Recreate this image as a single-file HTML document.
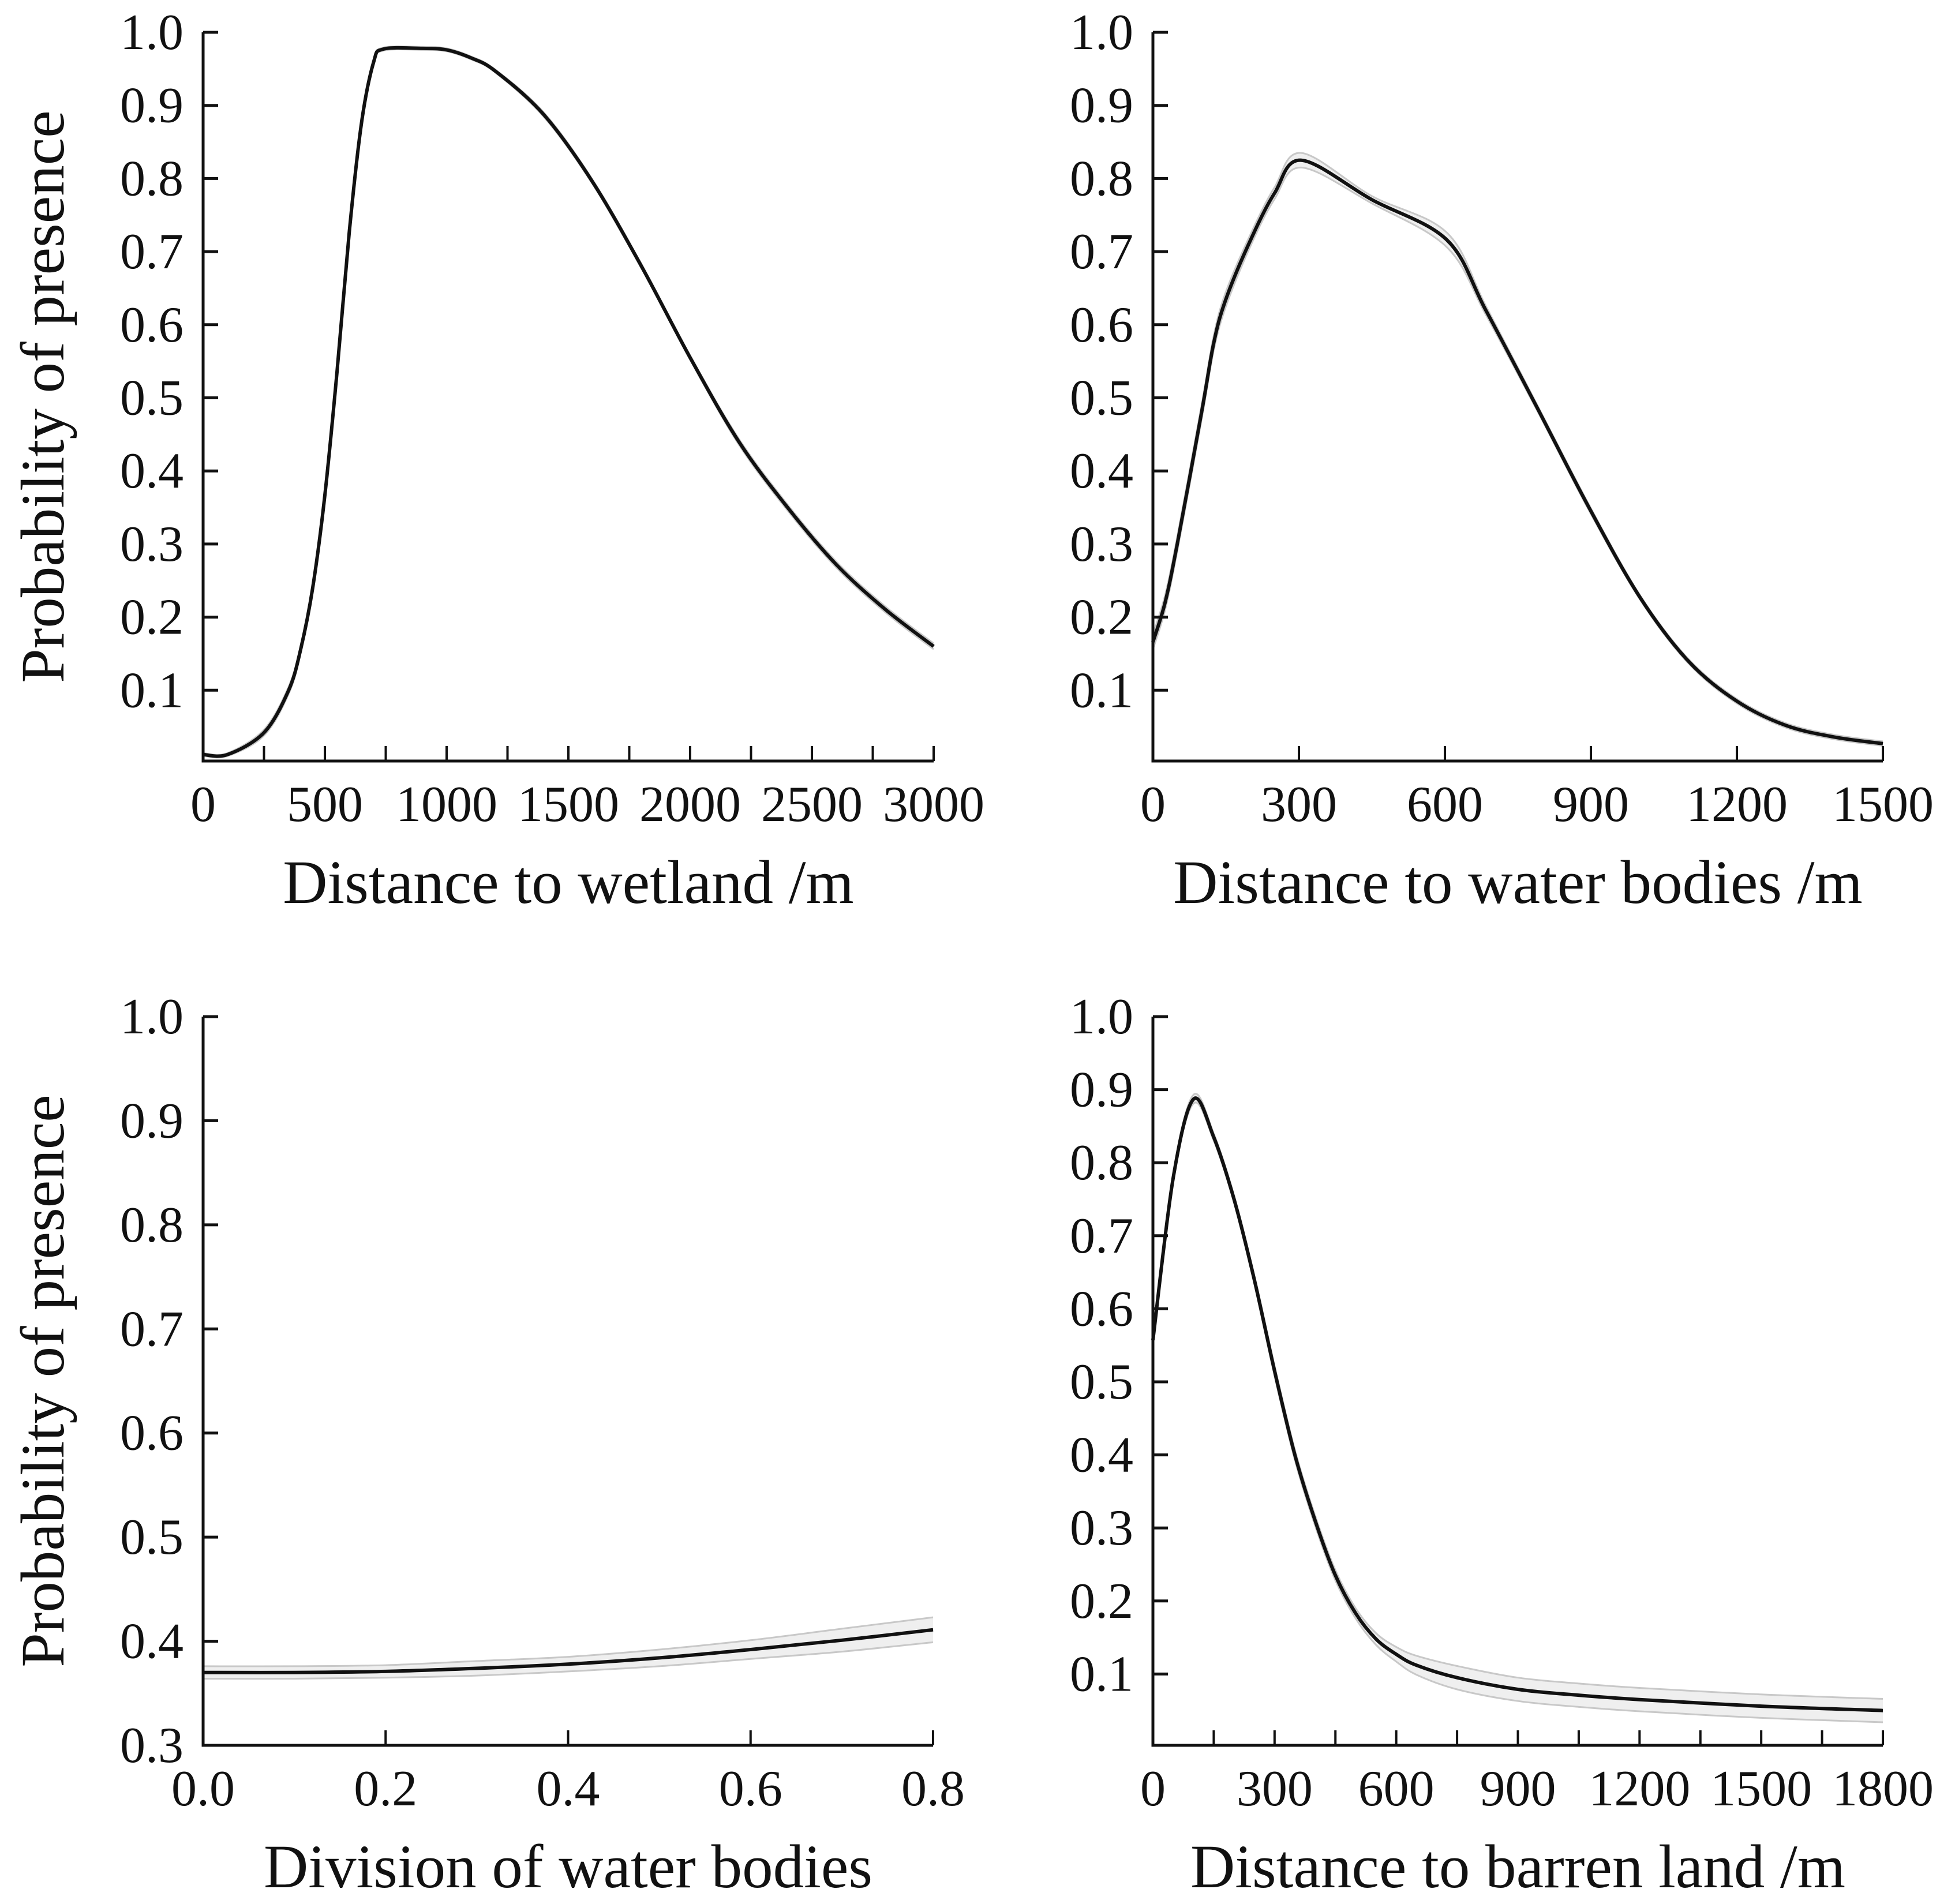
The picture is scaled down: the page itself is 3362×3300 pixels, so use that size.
<!DOCTYPE html>
<html><head><meta charset="utf-8"><style>
html,body{margin:0;padding:0;background:#fff}
svg{display:block}
text{font-family:"Liberation Serif","Times New Roman",serif;fill:#111}
</style></head><body>
<svg id="fig" width="3362" height="3300" viewBox="0 0 3362 3300" xmlns="http://www.w3.org/2000/svg"></svg>
<script>
// Panel A: distance to wetland
const wetX = [0,100,250,350,400,450,500,550,600,650,700,740,900,1000,1100,1200,1400,1600,1800,2000,2200,2400,2600,2800,3000];
const wetY = [0.012,0.012,0.042,0.099,0.155,0.24,0.367,0.536,0.726,0.875,0.959,0.977,0.978,0.976,0.965,0.947,0.887,0.795,0.68,0.555,0.44,0.35,0.272,0.211,0.16];
const wetCI = [0.002,0.002,0.004,0.005,0.005,0.005,0.005,0.004,0.003,0.003,0.002,0.002,0.002,0.002,0.002,0.002,0.003,0.003,0.003,0.003,0.004,0.004,0.004,0.004,0.004];
// Panel B: distance to water bodies
const watX = [0,25,50,100,125,150,200,250,305,450,604,684,790,896,1000,1100,1200,1300,1400,1500];
const watY = [0.166,0.22,0.30,0.48,0.575,0.635,0.715,0.78,0.825,0.771,0.716,0.62,0.486,0.35,0.228,0.14,0.085,0.052,0.036,0.027];
const watCI = [0.01,0.01,0.01,0.01,0.01,0.01,0.008,0.008,0.01,0.005,0.01,0.006,0.004,0.004,0.003,0.003,0.003,0.003,0.003,0.003];
// Panel C: division of water bodies
const divX = [0,0.1,0.2,0.3,0.4,0.5,0.6,0.7,0.8];
const divY = [0.37,0.37,0.371,0.374,0.378,0.384,0.392,0.401,0.411];
const divCI = [0.006,0.006,0.006,0.007,0.007,0.008,0.009,0.011,0.012];
// Panel D: distance to barren land
const barX = [0,50,100,150,200,250,300,350,400,450,500,550,600,650,750,900,1050,1200,1500,1800];
const barY = [0.557,0.779,0.887,0.835,0.75,0.64,0.515,0.40,0.31,0.235,0.183,0.148,0.127,0.112,0.095,0.079,0.071,0.065,0.056,0.05];
const barCI = [0.004,0.005,0.006,0.005,0.005,0.006,0.007,0.007,0.007,0.007,0.007,0.008,0.01,0.013,0.016,0.016,0.016,0.016,0.016,0.016];
// tick labels
const yTicksFull = [0.1,0.2,0.3,0.4,0.5,0.6,0.7,0.8,0.9,1.0];
const yTicksDiv = [0.3,0.4,0.5,0.6,0.7,0.8,0.9,1.0];
const xTicksWet = [0,500,1000,1500,2000,2500,3000];
const xTicksWat = [0,300,600,900,1200,1500];
const xTicksDiv = [0,0.2,0.4,0.6,0.8];
const xTicksBar = [0,300,600,900,1200,1500,1800];

const NS = "http://www.w3.org/2000/svg";
const svg = document.getElementById('fig');
function mk(tag, attrs, parent){const e=document.createElementNS(NS,tag);for(const k in attrs)e.setAttribute(k,attrs[k]);(parent||svg).appendChild(e);return e;}
function smooth(pts){
  let d='M'+pts[0][0].toFixed(1)+','+pts[0][1].toFixed(1);
  for(let i=0;i<pts.length-1;i++){
    const p0=pts[Math.max(0,i-1)],p1=pts[i],p2=pts[i+1],p3=pts[Math.min(pts.length-1,i+2)];
    const c1=[p1[0]+(p2[0]-p0[0])/6,p1[1]+(p2[1]-p0[1])/6];
    const c2=[p2[0]-(p3[0]-p1[0])/6,p2[1]-(p3[1]-p1[1])/6];
    d+=' C'+c1[0].toFixed(1)+','+c1[1].toFixed(1)+' '+c2[0].toFixed(1)+','+c2[1].toFixed(1)+' '+p2[0].toFixed(1)+','+p2[1].toFixed(1);
  }
  return d;
}
function panel(cfg){
  const g=mk('g',{});
  
  
  const sx=v=>cfg.x0+(v-cfg.xmin)/(cfg.xmax-cfg.xmin)*(cfg.x1-cfg.x0);
  const sy=v=>cfg.y0-(v-cfg.ymin)/(cfg.ymax-cfg.ymin)*(cfg.y0-cfg.y1);
  const up=cfg.xs.map((x,i)=>[sx(x),sy(cfg.ys[i]+cfg.ci[i])]);
  const lo=cfg.xs.map((x,i)=>[sx(x),sy(cfg.ys[i]-cfg.ci[i])]);
  const band=mk('path',{d:smooth(up)+' L'+smooth(lo.slice().reverse()).slice(1)+' Z',fill:'#efefef',stroke:'none'},g);
  
  
  const ub=mk('path',{d:smooth(up),fill:'none',stroke:'#c8c8c8','stroke-width':3},g);
  
  
  const lb=mk('path',{d:smooth(lo),fill:'none',stroke:'#c8c8c8','stroke-width':3},g);
  
  
  const ln=mk('path',{d:smooth(cfg.xs.map((x,i)=>[sx(x),sy(cfg.ys[i])])),fill:'none',stroke:'#111','stroke-width':6,'stroke-linejoin':'round'},g);
  
  
  const ax=mk('path',{d:'M'+cfg.x0+','+cfg.y1+' L'+cfg.x0+','+cfg.ay+' L'+cfg.x1+','+cfg.ay,fill:'none',stroke:'#111','stroke-width':5},g);
  
  
  cfg.yt.forEach(v=>{
    const y=sy(v);
    const t=mk('line',{x1:cfg.x0,x2:cfg.x0+26,y1:y,y2:y,stroke:'#111','stroke-width':5},g);
    
    
    const l=mk('text',{x:cfg.x0-34,y:y+29,'text-anchor':'end','font-size':88},g);
    
    
    l.textContent=v.toFixed(1);
  });
  for(let v=cfg.xmin+cfg.minor; v<=cfg.xmax+1e-9; v+=cfg.minor){
    const x=sx(v);
    const t=mk('line',{x1:x,x2:x,y1:cfg.ay,y2:cfg.ay-26,stroke:'#111','stroke-width':4},g);
    
    
  }
  cfg.xt.forEach(v=>{
    const l=mk('text',{x:sx(v),y:cfg.ay+104,'text-anchor':'middle','font-size':88},g);
    
    
    l.textContent=cfg.xfmt(v);
  });
  const xt=mk('text',{x:(cfg.x0+cfg.x1)/2,y:cfg.ay+246,'text-anchor':'middle','font-size':107},g);
  
  
  xt.textContent=cfg.xtitle;
  if(cfg.ytitle){
    const cy=(cfg.ay+cfg.y1)/2;
    const yt=mk('text',{x:0,y:0,'text-anchor':'middle','font-size':107,transform:'translate(110,'+cy+') rotate(-90)'},g);
    
    
    yt.textContent=cfg.ytitle;
  }
}
panel({name:'panel-wetland',x0:352,x1:1618,y0:1323,ay:1319,y1:56,xmin:0,xmax:3000,ymin:0,ymax:1.0,xs:wetX,ys:wetY,ci:wetCI,yt:yTicksFull,xt:xTicksWet,minor:250,xfmt:v=>String(v),xtitle:'Distance to wetland /m',ytitle:'Probability of presence'});
panel({name:'panel-water-bodies',x0:1998,x1:3263,y0:1323,ay:1319,y1:56,xmin:0,xmax:1500,ymin:0,ymax:1.0,xs:watX,ys:watY,ci:watCI,yt:yTicksFull,xt:xTicksWat,minor:300,xfmt:v=>String(v),xtitle:'Distance to water bodies /m',ytitle:null});
panel({name:'panel-division',x0:352,x1:1617,y0:3025,ay:3025,y1:1762,xmin:0,xmax:0.8,ymin:0.3,ymax:1.0,xs:divX,ys:divY,ci:divCI,yt:yTicksDiv,xt:xTicksDiv,minor:0.2,xfmt:v=>v.toFixed(1),xtitle:'Division of water bodies',ytitle:'Probability of presence'});
panel({name:'panel-barren-land',x0:1998,x1:3263,y0:3028,ay:3025,y1:1762,xmin:0,xmax:1800,ymin:0,ymax:1.0,xs:barX,ys:barY,ci:barCI,yt:yTicksFull,xt:xTicksBar,minor:150,xfmt:v=>String(v),xtitle:'Distance to barren land /m',ytitle:null});
</script>
</body></html>
